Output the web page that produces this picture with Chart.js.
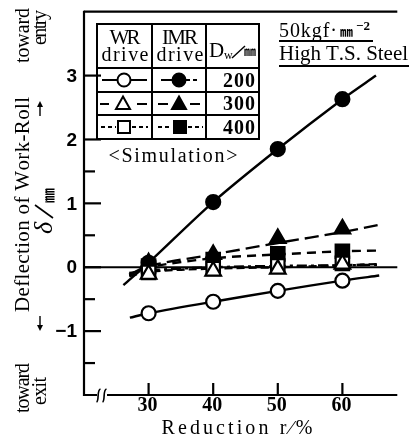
<!DOCTYPE html>
<html><head><meta charset="utf-8">
<script src="https://cdn.jsdelivr.net/npm/chart.js@4.4.0/dist/chart.umd.min.js"></script>
<style>html,body{margin:0;padding:0;background:#fff;}#wrap{width:409px;height:441px;position:relative;}</style>
</head><body><div id="wrap"><canvas id="c"></canvas></div>
<script>
// ---- data ----
const reduction = [30, 40, 50, 60];
const wr200  = [-0.72, -0.54, -0.37, -0.21];
const imr200 = [0.07, 1.02, 1.85, 2.63];
const wr300  = [-0.11, -0.06, -0.03, 0.05];
const imr300 = [0.07, 0.20, 0.45, 0.60];
const wr400  = [-0.08, -0.02, 0.02, 0.06];
const imr400 = [0.02, 0.12, 0.21, 0.25];

// fitted curves (as drawn)
const fitX200imr = [26.1, 30, 40, 50, 60, 65.2];
const fitY200imr = [-0.28, 0.07, 1.02, 1.85, 2.63, 3.0];
const fitX200wr  = [27.1, 30, 40, 50, 60, 65.7];
const fitY200wr  = [-0.79, -0.72, -0.54, -0.37, -0.21, -0.13];
const fitX       = [27, 30, 40, 50, 60, 65.5];
const fitY300imr = [-0.12, 0.02, 0.20, 0.38, 0.55, 0.66];
const fitY400imr = [-0.12, 0.00, 0.14, 0.20, 0.25, 0.26];
const fitY300wr  = [-0.14, -0.07, -0.02, 0.00, 0.03, 0.05];
const fitY400wr  = [-0.09, -0.05, 0.00, 0.02, 0.03, 0.04];

const xTicks = [30, 40, 50, 60];
const xTickLabels = ['30', '40', '50', '60'];
const yTicks = [-1, 0, 1, 2, 3];
const yTickLabels = ['\u22121', '0', '1', '2', '3'];
const yMinorTicks = [-1.5, -0.5, 0.5, 1.5];
const rollSizes = ['200', '300', '400'];

const pts = (xs, ys) => xs.map((x, i) => ({x, y: ys[i]}));

function markerSet(label, ys, style, filled, r) {
  return {label, data: pts(reduction, ys), showLine: false, pointStyle: style,
    pointRadius: r, pointBorderWidth: 2.2, pointBorderColor: '#000',
    pointBackgroundColor: filled ? '#000' : '#fff'};
}
function curveSet(label, xs, ys, dash) {
  return {label, data: pts(xs, ys), borderColor: '#000', borderWidth: 2.4,
    borderDash: dash, pointRadius: 0, tension: 0.3, fill: false};
}

function spaced(ctx, text, x, y, width, align) {
  const chars = [...text];
  const ws = chars.map(c => ctx.measureText(c).width);
  const nat = ws.reduce((s, v) => s + v, 0);
  const gap = chars.length > 1 ? (width - nat) / (chars.length - 1) : 0;
  let sx = align === 'left' ? x : align === 'right' ? x - width : x - width / 2;
  ctx.textAlign = 'left';
  chars.forEach((c, i) => { ctx.fillText(c, sx, y); sx += ws[i] + gap; });
}
function seg(ctx, x1, y1, x2, y2) { ctx.beginPath(); ctx.moveTo(x1, y1); ctx.lineTo(x2, y2); ctx.stroke(); }

const SERIF = '"Liberation Serif", "DejaVu Serif", serif';
const SANS = '"Liberation Sans", Arial, sans-serif';
const CJK = '"Noto Sans CJK JP", "Noto Sans CJK SC", sans-serif';

function legendMarker(ctx, kind, filled, cx, cy) {
  ctx.save();
  ctx.lineWidth = 2; ctx.strokeStyle = '#000'; ctx.fillStyle = filled ? '#000' : '#fff';
  ctx.beginPath();
  if (kind === 'circle') ctx.arc(cx, cy, 6.5, 0, Math.PI * 2);
  else if (kind === 'triangle') { ctx.moveTo(cx, cy - 7.5); ctx.lineTo(cx + 7, cy + 5); ctx.lineTo(cx - 7, cy + 5); ctx.closePath(); }
  else { ctx.rect(cx - 6, cy - 6, 12, 12); }
  ctx.fill(); ctx.stroke();
  ctx.restore();
}
function arrow(ctx, x, y1, y2) {
  const d = y2 > y1 ? 1 : -1;
  seg(ctx, x, y1, x, y2 - d * 3);
  ctx.beginPath(); ctx.moveTo(x, y2); ctx.lineTo(x - 3, y2 - d * 6); ctx.lineTo(x + 3, y2 - d * 6); ctx.closePath(); ctx.fill();
}

const deco = {
  id: 'deco',
  beforeDatasetsDraw(chart) {
    const {ctx, chartArea: a, scales: {y}} = chart;
    ctx.save();
    ctx.strokeStyle = '#000'; ctx.lineWidth = 2.2;
    const y0 = y.getPixelForValue(0);
    seg(ctx, a.left, y0, a.right, y0);
    ctx.restore();
  },
  afterDatasetsDraw(chart) {
    const {ctx, chartArea: a, scales: {x, y}} = chart;
    ctx.save();
    ctx.strokeStyle = '#000'; ctx.fillStyle = '#000'; ctx.lineWidth = 2.2;
    // frame
    seg(ctx, a.left, a.top, a.right, a.top);
    seg(ctx, a.left, a.top - 1, a.left, a.bottom + 1);
    seg(ctx, a.left - 1, a.bottom, a.right, a.bottom);
    // axis break
    ctx.fillStyle = '#fff'; ctx.fillRect(97, a.bottom - 3, 10, 6); ctx.fillStyle = '#000';
    ctx.lineWidth = 1.6;
    [98.5, 104.5].forEach(bx => {
      ctx.beginPath(); ctx.moveTo(bx - 2, a.bottom + 7);
      ctx.bezierCurveTo(bx + 1, a.bottom + 6, bx - 2, a.bottom - 5, bx + 2, a.bottom - 6); ctx.stroke();
    });
    ctx.lineWidth = 2.2;
    // y ticks
    yTicks.forEach(v => { const p = y.getPixelForValue(v); seg(ctx, a.left, p, a.left + 17, p); });
    yMinorTicks.forEach(v => { const p = y.getPixelForValue(v); seg(ctx, a.left, p, a.left + 11, p); });
    // x ticks
    xTicks.forEach(v => { const p = x.getPixelForValue(v); seg(ctx, p, a.bottom, p, a.bottom - 12); });
    // y tick labels
    ctx.font = 'bold 19px ' + SANS; ctx.textBaseline = 'middle'; ctx.textAlign = 'right';
    yTicks.forEach((v, i) => ctx.fillText(yTickLabels[i], 77, y.getPixelForValue(v) + 1));
    // x tick labels
    ctx.font = 'bold 20px ' + SERIF; ctx.textBaseline = 'middle'; ctx.textAlign = 'center';
    xTicks.forEach((v, i) => ctx.fillText(xTickLabels[i], x.getPixelForValue(v) - 1, 406));
    // x title
    ctx.font = '20px ' + SERIF; ctx.textBaseline = 'alphabetic';
    spaced(ctx, 'Reduction r\u2215%', 237, 434, 151, 'center');
    // y title (rotated)
    const rot = (txt, cx, cy, w, font) => {
      ctx.save(); ctx.translate(cx, cy); ctx.rotate(-Math.PI / 2);
      ctx.font = font; ctx.textBaseline = 'middle'; spaced(ctx, txt, 0, 0, w, 'center'); ctx.restore();
    };
    rot('Deflection of Work-Roll', 23, 204.5, 215, '21px ' + SERIF);
    rot('toward', 24, 388, 50, '20px ' + SERIF);
    rot('toward', 24, 35.5, 55, '20px ' + SERIF);
    rot('exit', 41, 391, 28, '20px ' + SERIF);
    rot('entry', 41, 27.5, 35, '20px ' + SERIF);
    ctx.lineWidth = 1.4;
    arrow(ctx, 40, 316, 331);
    arrow(ctx, 40, 116, 101);
    // delta / mm
    ctx.save(); ctx.translate(44, 203); ctx.rotate(-Math.PI / 2); ctx.textBaseline = 'middle'; ctx.textAlign = 'left';
    ctx.font = 'italic 26px ' + SERIF; ctx.fillText('\u03b4', -31, 1);
    ctx.lineWidth = 1.6; seg(ctx, -15, 9, -2, -9);
    ctx.font = 'bold 15px ' + CJK; ctx.fillText('\u339c', 0, 4);
    ctx.restore();

    // legend table
    ctx.lineWidth = 2;
    const L = 97, R = 259, T = 24, B = 139, c1 = 152, c2 = 206, r1 = 68, r2 = 92, r3 = 115;
    ctx.strokeRect(L, T, R - L, B - T);
    seg(ctx, c1, T, c1, B); seg(ctx, c2, T, c2, B);
    seg(ctx, L, r1, R, r1); seg(ctx, L, r2, R, r2); seg(ctx, L, r3, R, r3);
    ctx.font = '21px ' + SERIF; ctx.textBaseline = 'alphabetic';
    spaced(ctx, 'WR', 125, 44, 31, 'center');
    spaced(ctx, 'IMR', 180, 44, 36, 'center');
    ctx.font = '20px ' + SERIF;
    spaced(ctx, 'drive', 125, 61, 47, 'center');
    spaced(ctx, 'drive', 180, 61, 47, 'center');
    ctx.textAlign = 'left';
    ctx.font = '21px ' + SERIF; ctx.fillText('D', 209, 57);
    ctx.font = '12px ' + SERIF; ctx.fillText('w', 224, 59);
    ctx.lineWidth = 1.4; seg(ctx, 232, 58, 245, 46);
    ctx.font = 'bold 12px ' + CJK; ctx.fillText('\u339c', 244, 56);
    ctx.font = 'bold 20px ' + SERIF;
    [87, 110, 134].forEach((by, i) => spaced(ctx, rollSizes[i], 255, by, 32, 'right'));
    // legend samples
    const rowsY = [80, 104, 127];
    ctx.lineWidth = 2;
    seg(ctx, 102, rowsY[0], 147, rowsY[0]);
    seg(ctx, 161, rowsY[0], 186, rowsY[0]);
    ctx.setLineDash([4, 3]); seg(ctx, 186, rowsY[0], 197, rowsY[0]); ctx.setLineDash([]);
    seg(ctx, 100, rowsY[1], 109, rowsY[1]); seg(ctx, 137, rowsY[1], 147, rowsY[1]);
    seg(ctx, 158, rowsY[1], 168, rowsY[1]); seg(ctx, 190, rowsY[1], 200, rowsY[1]);
    ctx.setLineDash([4, 3]);
    seg(ctx, 101, rowsY[2], 116, rowsY[2]); seg(ctx, 132, rowsY[2], 148, rowsY[2]);
    seg(ctx, 158, rowsY[2], 172, rowsY[2]); seg(ctx, 188, rowsY[2], 203, rowsY[2]);
    ctx.setLineDash([]);
    legendMarker(ctx, 'circle', false, 124, rowsY[0]);
    legendMarker(ctx, 'circle', true, 179, rowsY[0]);
    legendMarker(ctx, 'triangle', false, 123, rowsY[1]);
    legendMarker(ctx, 'triangle', true, 179, rowsY[1]);
    legendMarker(ctx, 'rect', false, 124, rowsY[2]);
    legendMarker(ctx, 'rect', true, 180, rowsY[2]);
    // simulation label
    ctx.font = '20px ' + SERIF; ctx.textBaseline = 'alphabetic';
    spaced(ctx, '<Simulation>', 173, 162, 129, 'center');
    // top right title
    ctx.textAlign = 'left';
    ctx.font = '20px ' + SERIF; spaced(ctx, '50kgf\u00b7', 279, 37, 58, 'left');
    ctx.font = 'bold 13px ' + CJK; ctx.fillText('\u339c', 340, 36);
    ctx.font = 'bold 13px ' + SERIF; ctx.fillText('\u22122', 356, 30);
    ctx.font = '21px ' + SERIF; spaced(ctx, 'High T.S. Steel', 279, 60, 129, 'left');
    ctx.lineWidth = 2;
    seg(ctx, 279, 41, 373, 41);
    seg(ctx, 279, 66, 409, 66);
    ctx.restore();
  }
};

const datasets = [
  markerSet('WR 300', wr300, 'triangle', false, 9),
  markerSet('WR 400', wr400, 'rect', false, 9.5),
  markerSet('WR 200', wr200, 'circle', false, 7),
  markerSet('IMR 300', imr300, 'triangle', true, 9),
  markerSet('IMR 400', imr400, 'rect', true, 9.5),
  markerSet('IMR 200', imr200, 'circle', true, 7),
  curveSet('fit IMR 200', fitX200imr, fitY200imr, []),
  curveSet('fit WR 200', fitX200wr, fitY200wr, []),
  curveSet('fit IMR 300', fitX, fitY300imr, [14, 6]),
  curveSet('fit IMR 400', fitX, fitY400imr, [9, 6]),
  curveSet('fit WR 300', fitX, fitY300wr, [8, 4]),
  curveSet('fit WR 400', fitX, fitY400wr, [10, 4, 3, 4]),
];

new Chart(document.getElementById('c'), {
  type: 'line',
  data: {datasets},
  options: {
    responsive: true, maintainAspectRatio: false, animation: false,
    layout: {padding: {left: 84, top: 9, right: 0, bottom: 46}},
    clip: false,
    plugins: {legend: {display: false}, tooltip: {enabled: false}},
    scales: {
      x: {type: 'linear', min: 20, max: 68.5, display: false},
      y: {type: 'linear', min: -2, max: 4, display: false}
    }
  },
  plugins: [deco]
});
</script></body></html>
